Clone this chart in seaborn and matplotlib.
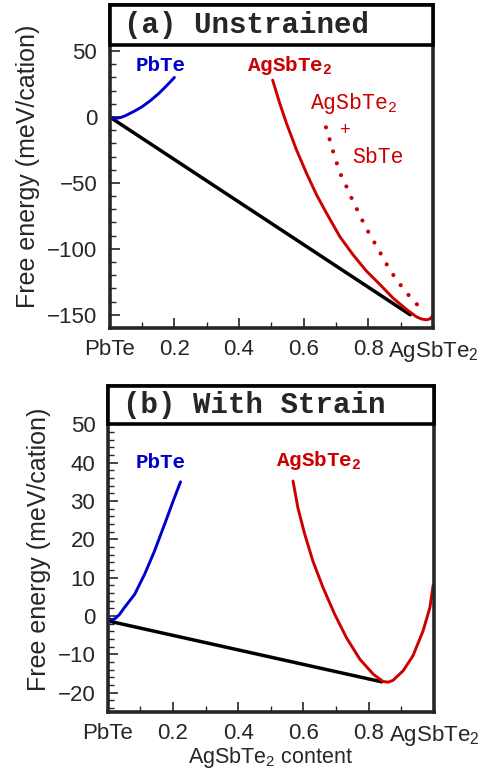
import numpy as np
import pandas as pd
import matplotlib
matplotlib.use("Agg")
import matplotlib.pyplot as plt
import seaborn as sns
from matplotlib.patches import Rectangle
from matplotlib.ticker import MultipleLocator

# ---------------- data ----------------
# Panel (a) Unstrained
a_pbte_x = [0.0, 0.01, 0.02, 0.035, 0.05, 0.075, 0.10, 0.125, 0.15, 0.175, 0.20]
a_pbte_y = [0.0, -0.8, -1.0, -0.3, 1.2, 4.3, 7.8, 12.3, 17.5, 23.5, 30.0]
a_tie_x = [0.0, 0.93]
a_tie_y = [0.0, -150.0]
a_ag_x = [0.504, 0.526, 0.547, 0.578, 0.609, 0.640, 0.671, 0.712, 0.753, 0.795,
          0.836, 0.877, 0.919, 0.949, 0.965, 0.980, 0.992, 0.999]
a_ag_y = [28.0, 10.4, -4.8, -25.0, -42.7, -59.0, -73.0, -90.7, -104.5, -117.0,
          -127.0, -137.4, -146.0, -151.5, -153.2, -153.8, -153.0, -150.8]
a_mix_x = [0.669, 0.681, 0.691, 0.704, 0.717, 0.735, 0.751, 0.769, 0.787, 0.805,
           0.826, 0.846, 0.867, 0.888, 0.911, 0.937, 0.965]
a_mix_y = [-7.8, -17.4, -26.0, -36.0, -45.0, -54.0, -63.0, -72.0, -81.0, -89.4,
           -98.0, -107.0, -116.0, -123.5, -131.0, -138.6, -145.7]

# Panel (b) With strain
b_pbte_x = [0.0, 0.005, 0.012, 0.021, 0.035, 0.051, 0.082, 0.113, 0.143, 0.174, 0.200, 0.223]
b_pbte_y = [-0.3, -0.8, -1.0, -0.8, 0.3, 2.2, 5.6, 10.9, 16.9, 23.9, 29.9, 35.0]
b_tie_x = [0.0, 0.84]
b_tie_y = [-1.3, -17.2]
b_ag_x = [0.568, 0.583, 0.604, 0.629, 0.660, 0.696, 0.732, 0.773, 0.814, 0.844,
          0.860, 0.875, 0.906, 0.936, 0.967, 0.988, 0.998]
b_ag_y = [35.2, 28.2, 21.3, 14.3, 7.4, 0.4, -5.7, -11.3, -15.2, -17.1,
          -17.3, -16.8, -14.3, -10.4, -3.9, 2.2, 8.1]

x_ticks = [0.0, 0.2, 0.4, 0.6, 0.8, 1.0]
x_ticklabels = ["PbTe", "0.2", "0.4", "0.6", "0.8", "AgSbTe$_2$"]

BLUE = "#0000CC"
RED = "#CC0000"

sns.set_style("ticks")
plt.rcParams["font.family"] = ["Liberation Sans", "DejaVu Sans"]
plt.rcParams["mathtext.default"] = "regular"

fig = plt.figure(figsize=(4.88, 7.71), dpi=100)
axa = fig.add_axes([0.225, 0.5746, 0.662, 0.419])
axb = fig.add_axes([0.221, 0.0769, 0.668, 0.4225])

MONO = ["Liberation Mono", "DejaVu Sans Mono"]


def line(ax, xs, ys, color, lw, **kw):
    df = pd.DataFrame({"x": xs, "y": ys})
    sns.lineplot(data=df, x="x", y="y", ax=ax, color=color, lw=lw,
                 sort=False, estimator=None, **kw)


def style(ax, ylim, major, minor, box_frac, title):
    ax.set_xlim(0, 1)
    ax.set_ylim(*ylim)
    ax.set_xticks(x_ticks)
    ax.set_xticklabels(x_ticklabels)
    ax.xaxis.set_minor_locator(MultipleLocator(0.1))
    ax.yaxis.set_major_locator(MultipleLocator(major))
    ax.yaxis.set_minor_locator(MultipleLocator(minor))
    ax.tick_params(axis="both", which="major", direction="in", length=7,
                   width=1.2, labelsize=16, pad=9)
    ax.tick_params(axis="x", which="major", pad=8)
    ax.tick_params(axis="both", which="minor", direction="in", length=4,
                   width=1.0)
    ax.tick_params(top=False, right=False, which="both")
    for s in ax.spines.values():
        s.set_linewidth(2.6)
        s.set_visible(True)
    ax.set_ylabel("Free energy (meV/cation)", fontsize=18, labelpad=5)
    ax.set_xlabel("")
    top_data = ylim[0] + (ylim[1] - ylim[0]) * box_frac
    for t, v in zip(ax.yaxis.get_major_ticks(), ax.get_yticks()):
        if v > top_data + 1e-6:
            t.label1.set_visible(False)
            t.tick1line.set_visible(False)
    for t, v in zip(ax.yaxis.get_minor_ticks(), ax.yaxis.get_minorticklocs()):
        if v > top_data + 1e-6:
            t.tick1line.set_visible(False)
    rect = Rectangle((0, box_frac), 1, 1 - box_frac, transform=ax.transAxes,
                     facecolor="white", edgecolor="black", lw=2.6, zorder=5,
                     clip_on=False)
    ax.add_patch(rect)
    ax.text(0.045, (1 + box_frac) / 2, title, transform=ax.transAxes,
            family=MONO, fontweight="bold", fontsize=21, va="center",
            ha="left", zorder=6)


# ---- panel a ----
line(axa, a_tie_x, a_tie_y, "black", 2.5)
line(axa, a_pbte_x, a_pbte_y, BLUE, 2.1)
line(axa, a_ag_x, a_ag_y, RED, 2.1)
line(axa, a_mix_x, a_mix_y, RED, 3.0)
axa.lines[-1].set_linestyle((0, (0.01, 3.0)))
axa.lines[-1].set_dash_capstyle("round")

axa.text(0.08, 39, "PbTe", color=BLUE, family=MONO, fontweight="bold",
         fontsize=15, va="center")
axa.text(0.425, 39, "AgSbTe$_2$", color=RED, family=MONO, fontweight="bold",
         fontsize=15, va="center")
axa.text(0.62, 10, "AgSbTe$_2$", color=RED, family=MONO, fontsize=15.5,
         va="center")
axa.text(0.73, -10, "+", color=RED, family=MONO, fontsize=13,
         va="center", ha="center")
axa.text(0.75, -31, "SbTe", color=RED, family=MONO, fontsize=15.5,
         va="center")
style(axa, (-160, 85), 50, 10, 0.876, "(a) Unstrained")

# ---- panel b ----
line(axb, b_tie_x, b_tie_y, "black", 2.5)
line(axb, b_pbte_x, b_pbte_y, BLUE, 2.1)
line(axb, b_ag_x, b_ag_y, RED, 2.1)
axb.text(0.085, 40, "PbTe", color=BLUE, family=MONO, fontweight="bold",
         fontsize=15, va="center")
axb.text(0.515, 40.5, "AgSbTe$_2$", color=RED, family=MONO, fontweight="bold",
         fontsize=15, va="center")
style(axb, (-25, 60), 10, 2, 0.883, "(b) With Strain")
axb.set_xlabel("AgSbTe$_2$ content", fontsize=15.5, labelpad=-2)

fig.savefig("out.png", dpi=100)
